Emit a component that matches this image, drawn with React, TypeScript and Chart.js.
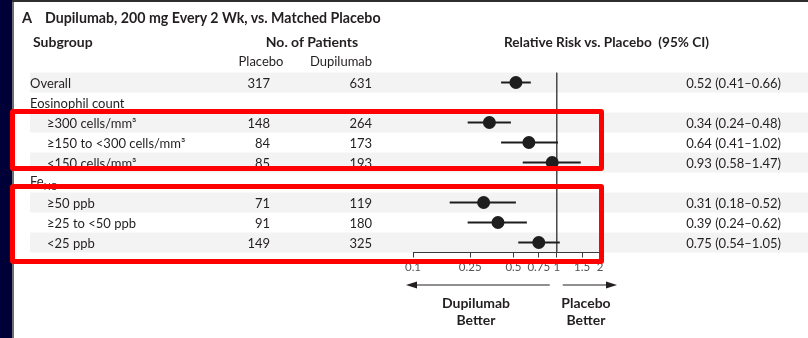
import React, { useEffect, useRef } from "react";
import { Chart, registerables } from "chart.js";

Chart.register(...registerables);

// Forest plot rows (top to bottom); null marks a group header row
const subgroups = [
  "Overall",
  "Eosinophil count",
  "≥300 cells/mm³",
  "≥150 to <300 cells/mm³",
  "<150 cells/mm³",
  "FeNO",
  "≥50 ppb",
  "≥25 to <50 ppb",
  "<25 ppb",
];
const indented = [false, false, true, true, true, false, true, true, true];
const shadedRows = [true, false, true, false, true, false, true, false, true];
const placeboN = [317, null, 148, 84, 85, null, 71, 91, 149];
const dupilumabN = [631, null, 264, 173, 193, null, 119, 180, 325];
const relativeRisk = [0.52, null, 0.34, 0.64, 0.93, null, 0.31, 0.39, 0.75];
const ciLow = [0.41, null, 0.24, 0.41, 0.58, null, 0.18, 0.24, 0.54];
const ciHigh = [0.66, null, 0.48, 1.02, 1.47, null, 0.52, 0.62, 1.05];
const axisTicks = [0.1, 0.25, 0.5, 0.75, 1, 1.5, 2];

const W = 808;
const H = 338;
const FONT = 'Lato, "Open Sans", sans-serif';
const INK = "#231f20";
const ROW_TOP = 72.5;
const ROW_H = 20;
const rowY = (i: number) => ROW_TOP + ROW_H * (i + 0.5);

const fmt = (v: number) => v.toFixed(2);

type TProps = {
  x: number;
  y: number;
  align?: "left" | "center" | "right";
  size?: number;
  weight?: number;
  color?: string;
  children: React.ReactNode;
};

function T({ x, y, align = "left", size = 13, weight = 400, color = INK, children }: TProps) {
  const tx = align === "left" ? "0" : align === "center" ? "-50%" : "-100%";
  return (
    <div
      style={{
        position: "absolute",
        left: x,
        top: y,
        transform: `translate(${tx}, -50%)`,
        fontFamily: FONT,
        fontSize: size,
        fontWeight: weight,
        color,
        lineHeight: 1,
        whiteSpace: "pre",
      }}
    >
      {children}
    </div>
  );
}

// Alternating grey row bands behind the table and plot
const bandPlugin = {
  id: "rowBands",
  beforeDraw(chart: any) {
    const { ctx } = chart;
    const y = chart.scales.y;
    const half = Math.abs(y.getPixelForValue(0.5) - y.getPixelForValue(0));
    ctx.save();
    ctx.fillStyle = "#f3f3f3";
    shadedRows.forEach((s, i) => {
      if (!s) return;
      const py = y.getPixelForValue(i);
      ctx.fillRect(30, py - half, W - 30, half * 2);
    });
    ctx.restore();
  },
};

// Direction arrows under the axis
const arrowPlugin = {
  id: "betterArrows",
  afterDraw(chart: any) {
    const { ctx } = chart;
    const x = chart.scales.x;
    const ay = chart.chartArea.bottom + 32.5;
    const one = x.getPixelForValue(1);
    const segs = [
      [one - 7, x.getPixelForValue(0.1) - 7],
      [one + 6, x.getPixelForValue(2) + 17],
    ];
    ctx.save();
    ctx.strokeStyle = INK;
    ctx.fillStyle = INK;
    ctx.lineWidth = 1.2;
    segs.forEach(([from, to]) => {
      const dir = Math.sign(to - from);
      ctx.beginPath();
      ctx.moveTo(from, ay);
      ctx.lineTo(to - dir * 8, ay);
      ctx.stroke();
      ctx.beginPath();
      ctx.moveTo(to, ay);
      ctx.lineTo(to - dir * 11, ay - 3.5);
      ctx.lineTo(to - dir * 11, ay + 3.5);
      ctx.closePath();
      ctx.fill();
    });
    ctx.restore();
  },
};

export default function App() {
  const canvasRef = useRef<HTMLCanvasElement | null>(null);

  useEffect(() => {
    if (!canvasRef.current) return;
    const idx = relativeRisk.map((v, i) => (v == null ? -1 : i)).filter((i) => i >= 0);

    const whiskers = idx.map((i) => ({
      type: "scatter" as const,
      data: [
        { x: ciLow[i] as number, y: i },
        { x: ciHigh[i] as number, y: i },
      ],
      showLine: true,
      borderColor: "#1e1e1e",
      borderWidth: 2,
      pointRadius: 0,
      order: 1,
    }));

    const chart = new Chart(canvasRef.current, {
      type: "scatter",
      data: {
        datasets: [
          {
            data: idx.map((i) => ({ x: relativeRisk[i] as number, y: i })),
            pointRadius: 6.5,
            pointBackgroundColor: "#1e1e1e",
            pointBorderWidth: 0,
            order: 0,
          },
          ...whiskers,
          {
            data: [
              { x: 1, y: -0.5 },
              { x: 1, y: 8.5 },
            ],
            showLine: true,
            borderColor: "#4a4a4a",
            borderWidth: 1,
            pointRadius: 0,
            order: 2,
          },
        ] as any,
      },
      options: {
        animation: false,
        responsive: false,
        devicePixelRatio: 1,
        events: [],
        layout: { padding: { left: 413, right: W - 600, top: ROW_TOP, bottom: H - 252.5 - 30 } },
        plugins: { legend: { display: false }, tooltip: { enabled: false } },
        scales: {
          x: {
            type: "logarithmic",
            min: 0.1,
            max: 2,
            afterBuildTicks: (s: any) => {
              s.ticks = axisTicks.map((v) => ({ value: v }));
            },
            afterFit: (s: any) => {
              s.height = 30;
            },
            ticks: {
              callback: (v: any) => String(v),
              autoSkip: false,
              maxRotation: 0,
              padding: 3,
              color: "#555",
              font: { family: FONT, size: 11.5 },
            },
            grid: { drawOnChartArea: false, drawTicks: true, tickLength: 5, color: "#3a3a3a", lineWidth: 1 },
            border: { display: true, color: "#3a3a3a", width: 1 },
          },
          y: { type: "linear", min: -0.5, max: 8.5, reverse: true, display: false },
        },
      } as any,
      plugins: [bandPlugin, arrowPlugin],
    });
    return () => chart.destroy();
  }, []);

  return (
    <div style={{ position: "fixed", left: 0, top: 0, width: W, height: H, background: "#fff", overflow: "hidden" }}>
      <canvas ref={canvasRef} width={W} height={H} style={{ position: "absolute", left: 0, top: 0, width: W, height: H }} />

      {/* frame edges */}
      <div style={{ position: "absolute", left: 0, top: 0, width: 12, height: H, background: "#000038" }} />
      <div style={{ position: "absolute", left: 12, top: 0, width: 2, height: H, background: "#6e6e6e" }} />
      <div style={{ position: "absolute", left: 12, top: 0, width: W - 12, height: 2, background: "#2e2e2e" }} />

      {/* title and headers */}
      <T x={22} y={18} size={14.5} weight={700}>A</T>
      <T x={45} y={18} size={14.2} weight={700}>Dupilumab, 200 mg Every 2 Wk, vs. Matched Placebo</T>
      <T x={33} y={42} size={14} weight={700}>Subgroup</T>
      <T x={312} y={42} size={14} weight={700} align="center">No. of Patients</T>
      <T x={504} y={43} size={13.6} weight={700}>Relative Risk vs. Placebo  (95% CI)</T>
      <T x={261} y={61} align="center">Placebo</T>
      <T x={341} y={61} align="center">Dupilumab</T>

      {/* table rows */}
      {subgroups.map((label, i) => (
        <React.Fragment key={i}>
          <T x={indented[i] ? 47 : 30} y={rowY(i)}>
            {label === "FeNO" ? (
              <span>
                Fe<sub style={{ fontSize: 9 }}>NO</sub>
              </span>
            ) : (
              label
            )}
          </T>
          {placeboN[i] != null && (
            <T x={270} y={rowY(i)} align="right">{String(placeboN[i])}</T>
          )}
          {dupilumabN[i] != null && (
            <T x={372} y={rowY(i)} align="right">{String(dupilumabN[i])}</T>
          )}
          {relativeRisk[i] != null && (
            <T x={781} y={rowY(i)} align="right">
              {`${fmt(relativeRisk[i] as number)} (${fmt(ciLow[i] as number)}–${fmt(ciHigh[i] as number)})`}
            </T>
          )}
        </React.Fragment>
      ))}

      {/* arrow captions */}
      <T x={476} y={303} size={14} weight={700} align="center">Dupilumab</T>
      <T x={476} y={320} size={14} weight={700} align="center">Better</T>
      <T x={586} y={303} size={14} weight={700} align="center">Placebo</T>
      <T x={586} y={320} size={14} weight={700} align="center">Better</T>

      {/* highlight boxes */}
      <div style={{ position: "absolute", left: 10, top: 109, width: 594, height: 62, border: "5px solid #ff0000", borderRadius: 3, boxSizing: "border-box" }} />
      <div style={{ position: "absolute", left: 10, top: 184, width: 594, height: 80, border: "5px solid #ff0000", borderRadius: 3, boxSizing: "border-box" }} />
    </div>
  );
}
